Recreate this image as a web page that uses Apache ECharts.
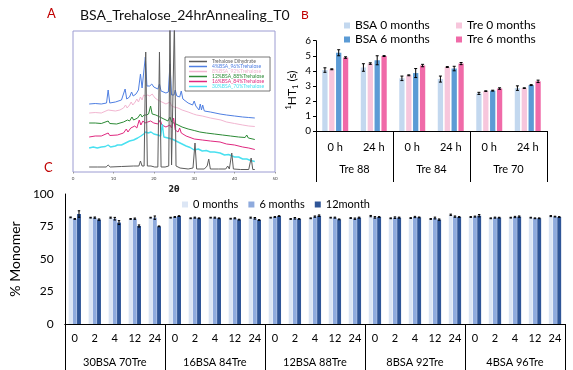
<!DOCTYPE html>
<html><head><meta charset="utf-8">
<script src="https://cdn.jsdelivr.net/npm/echarts@6/dist/echarts.min.js"></script>
<style>html,body{margin:0;padding:0;background:#fff}#c{width:573px;height:370px}</style>
</head><body><div id="c"></div>
<script>
// ---------- Panel A: XRD traces (2θ, height above baseline in plot units) ----------
const xrdTicks = [0, 10, 20, 30, 40, 50];
const traceNames = ['Trehalose Dihydrate','4%BSA_96%Trehalose','8%BSA_92%Trehalose','12%BSA_88%Trehalose','16%BSA_84%Trehalose','30%BSA_70%Trehalose'];
const trehaloseDihydrate = [[4,5],[6,5],[8.2,5],[8.7,7],[9.2,5],[12,5.5],[15,6],[16.3,6],[16.7,11],[17.1,6],[17.6,6],[18.0,120],[18.4,6],[19.3,6],[19.7,8],[20.2,5],[21.0,5],[21.4,120],[21.8,5],[22.8,5],[23.7,6],[24.0,150],[24.4,7],[24.8,7],[25.1,150],[25.5,6],[26.5,4],[28.5,3],[29.7,4],[30.2,29],[30.6,3],[32.5,3],[33.2,6],[33.6,13],[34.0,3],[36,3],[37.8,3],[38.3,6],[38.7,3],[39.3,19],[39.7,3],[41.5,2.5],[43.5,2.5],[44.1,14],[44.5,2.5],[45,2.5]];
const bsa4 = [[4,68],[5.5,68.5],[7,68],[8.3,69],[8.7,82],[9.1,69],[10.5,70],[12,72],[12.9,83],[13.3,73],[14,75],[14.5,80],[14.9,76],[15.6,78],[16.2,82],[16.7,98],[17.1,84],[17.5,85],[17.9,115],[18.3,86],[19,86],[19.5,88],[20,85],[21,83],[21.4,88],[21.8,81],[23,79],[23.6,80],[24.0,108],[24.4,77],[25,77],[25.3,82],[25.7,76],[26.4,75],[26.8,81],[27.2,73],[28.5,69],[29.6,67],[30,71],[30.4,66],[31.2,62],[31.5,68],[31.8,62],[32.1,67],[32.5,61],[34,60],[36.4,58],[38,57],[40,56],[42,55],[43.5,54.5],[45,54]];
const bsa8 = [[4,59],[5.5,59.5],[7,59],[8.7,62],[9.1,60],[10.5,61],[11.6,62],[12.5,64],[13,67],[13.4,64],[14,67],[14.4,70],[14.8,67],[15.4,70],[15.8,73],[16.2,70],[16.7,75],[17.1,72],[17.5,77],[18,76],[18.5,77],[19,76],[19.6,78],[20.3,74],[21,72],[22,70],[23,68],[24,70],[24.4,66],[25,65],[26,64],[27,62],[28.5,60],[29.8,58],[30.2,60],[30.6,57],[32,56],[34,54],[36.6,52],[38,50],[40,48.5],[42,47],[43.5,46],[45,45.5]];
const bsa12 = [[4,49],[5.5,49],[7,48.5],[8.7,51],[9.1,48.5],[10.8,48],[12.5,50],[13.5,52],[14,51],[14.6,55],[15,52],[16,54],[16.7,58],[17.1,55],[17.6,57],[18.2,57],[18.7,58],[19.2,66],[19.6,58],[20.5,57],[21.5,55],[22.5,53],[23.5,51],[24,55],[24.4,50],[25.5,48],[27,45],[28.5,43],[30,41.5],[31.4,40],[33,39],[35,38],[37,37],[39,36],[41,35],[42.6,34.5],[43,37],[43.4,34],[45,32.5]];
const bsa16 = [[4,35],[5.5,36],[7,36],[8.7,39],[9.1,36.5],[11,37],[12.5,39],[13.2,43],[13.6,40],[14.3,44],[14.7,42],[15.3,46],[15.8,44],[16.4,52],[16.8,47],[17.3,51],[17.8,49],[18.5,50],[19.2,51],[20,49],[21,48],[21.6,52],[22,47],[23,45],[24,47],[24.4,44],[24.9,54],[25.3,42],[26,40],[26.4,44],[26.8,39],[28,36],[30,33],[32,32],[34,31],[36.4,30],[38,28],[40,27],[42,25],[43.5,24],[45,22.5]];
const bsa30 = [[4,24],[5,25],[6,24],[7,25],[8,25.5],[8.7,27],[9.3,25],[10.5,26],[11,27],[12,27],[13,29],[14,31],[15,32],[16,34],[16.8,36],[17.5,38],[18,40],[18.6,39],[19.3,40],[20,38],[21,37],[21.7,36],[22.1,48],[22.5,35],[23.5,34],[24.5,33],[25,32],[26,30],[27,28],[28,26],[29,24.5],[30,22],[31,23],[32,21],[33,21.5],[34,20],[35,20],[36.4,19],[37.5,17],[38.5,17.5],[40,15],[41,15],[42,13],[43,13],[44,11.5],[45,10.5]];

// ---------- Panel B: 1H T1 (s) ----------
const bCategories = ['0 h', '24 h', '0 h', '24 h', '0 h', '24 h'];
const bGroups = ['Tre 88', 'Tre 84', 'Tre 70'];
const bYTicks = [0, 1, 2, 3, 4, 5, 6];
const bSeriesNames = ['BSA 0 months', 'Tre 0 months', 'BSA 6 months', 'Tre 6 months'];
const bsa0m = [4.05, 4.22, 3.5, 3.45, 2.5, 2.85];
const tre0m = [4.1, 4.48, 3.7, 4.25, 2.65, 2.85];
const bsa6m = [5.2, 4.7, 3.85, 4.15, 2.68, 3.05];
const tre6m = [4.88, 4.98, 4.35, 4.48, 2.82, 3.3];
const bsa0mErr = [0.15, 0.25, 0.15, 0.2, 0.07, 0.15];
const tre0mErr = [0.03, 0.05, 0.03, 0.03, 0.02, 0.02];
const bsa6mErr = [0.2, 0.3, 0.3, 0.15, 0.03, 0.03];
const tre6mErr = [0.05, 0.03, 0.08, 0.07, 0.05, 0.08];

// ---------- Panel C: % Monomer ----------
const cTimes = ['0', '2', '4', '12', '24'];
const cGroups = ['30BSA 70Tre', '16BSA 84Tre', '12BSA 88Tre', '8BSA 92Tre', '4BSA 96Tre'];
const cYTicks = [0, 25, 50, 75, 100];
const cSeriesNames = ['0 months', '6 months', '12month'];
const mono0 = [82, 81.8, 81.8, 80.8, 81.8, 81.8, 81.3, 81.8, 81, 81.8, 81.8, 80.8, 81.3, 81.8, 81.5, 83, 81.3, 81.5, 80.8, 84, 82.3, 81.3, 81.8, 81.8, 83];
const mono6 = [80.8, 81.8, 81, 81, 81.8, 82.3, 81.8, 81.8, 81.3, 81.3, 82.3, 81.3, 82.6, 81.8, 81, 82, 81.8, 82.3, 81.5, 82.6, 82.6, 81.8, 82.3, 81.3, 82.6];
const mono12 = [84.6, 80.3, 78, 75.4, 75.1, 83, 81.3, 81.3, 80.3, 80, 83, 80.8, 83.3, 80.5, 81.8, 82.3, 81.8, 82, 80.3, 82.3, 83.3, 81.8, 82.6, 81.3, 82.3];
const mono0Err = [0.3, 0.3, 0.4, 0.3, 0.3, 0.3, 0.3, 0.3, 0.3, 0.4, 0.3, 0.3, 0.3, 0.3, 0.3, 0.5, 0.3, 0.3, 0.3, 0.5, 0.3, 0.3, 0.3, 0.3, 0.4];
const mono6Err = [0.3, 0.5, 1.0, 0.5, 1.3, 0.3, 0.4, 0.4, 0.4, 0.6, 0.3, 0.6, 0.5, 0.4, 0.5, 0.6, 0.6, 0.5, 0.7, 0.5, 0.4, 0.4, 0.5, 0.3, 0.3];
const mono12Err = [2.5, 0.5, 1.5, 0.8, 0.3, 0.3, 0.3, 0.3, 0.3, 0.3, 0.3, 0.3, 0.6, 0.3, 0.4, 0.3, 0.4, 0.3, 0.5, 0.3, 0.9, 0.3, 0.5, 0.3, 0.3];
const cCategories = [];
cGroups.forEach(g => cTimes.forEach(t => cCategories.push(g + '|' + t)));

// ---------- styles ----------
const FONT = 'Lato';
const traceColors = ['#5c5c5c', '#4f7fe2', '#f2b6d1', '#2b8a35', '#e0287f', '#48e0f0'];
const bColors = ['#c3d8ef', '#f7c6dc', '#5b9bd5', '#f06aa8'];
const cColors = ['#dce6f5', '#8eaadd', '#2f5597'];

function errSeries(name, xi, yi, vals, errs, offset, cap) {
  return {
    type: 'custom', name: name, xAxisIndex: xi, yAxisIndex: yi, z: 10, silent: true,
    data: vals.map((v, i) => [i, v, errs[i]]),
    encode: { x: 0, y: 1 },
    renderItem: function (params, api) {
      const x = api.value(0), v = api.value(1), e = api.value(2);
      const t = api.coord([x, v + e]), b = api.coord([x, v - e]);
      const cx = t[0] + offset;
      const st = { stroke: '#000', lineWidth: 1 };
      return { type: 'group', children: [
        { type: 'line', shape: { x1: cx, y1: t[1], x2: cx, y2: b[1] }, style: st },
        { type: 'line', shape: { x1: cx - cap, y1: t[1], x2: cx + cap, y2: t[1] }, style: st },
        { type: 'line', shape: { x1: cx - cap, y1: b[1], x2: cx + cap, y2: b[1] }, style: st }
      ] };
    }
  };
}

const traces = [trehaloseDihydrate, bsa4, bsa8, bsa12, bsa16, bsa30];
const series = [];
traces.forEach((d, i) => series.push({
  type: 'line', name: traceNames[i], xAxisIndex: 0, yAxisIndex: 0, data: d,
  showSymbol: false, symbol: 'none', clip: true, z: 2 + (i === 0 ? 5 : 0),
  lineStyle: { color: traceColors[i], width: i === 5 ? 1.4 : 1 }, itemStyle: { color: traceColors[i] }
}));
const bVals = [bsa0m, tre0m, bsa6m, tre6m];
const bErrs = [bsa0mErr, tre0mErr, bsa6mErr, tre6mErr];
const bOff = [-10.34, -3.45, 3.44, 10.33];
bVals.forEach((d, i) => series.push({
  type: 'bar', name: bSeriesNames[i], xAxisIndex: 1, yAxisIndex: 1, data: d,
  barWidth: 5.3, barGap: '30%', itemStyle: { color: bColors[i] }
}));
bVals.forEach((d, i) => series.push(errSeries('errB' + i, 1, 1, d, bErrs[i], bOff[i], 1.5)));
const cVals = [mono0, mono6, mono12];
const cErrs = [mono0Err, mono6Err, mono12Err];
const cOff = [-4.21, 0, 4.21];
cVals.forEach((d, i) => series.push({
  type: 'bar', name: cSeriesNames[i], xAxisIndex: 3, yAxisIndex: 2, data: d,
  barWidth: 3.9, barGap: '8%', itemStyle: { color: cColors[i] }
}));
cVals.forEach((d, i) => series.push(errSeries('errC' + i, 3, 2, d, cErrs[i], cOff[i], 1.2)));

const chart = echarts.init(document.getElementById('c'), null, { renderer: 'canvas' });
chart.setOption({
  backgroundColor: '#fff',
  animation: false,
  textStyle: { fontFamily: FONT },
  grid: [
    { left: 73, top: 31, width: 202, height: 141, show: true, borderColor: '#9c9cd2', borderWidth: 1, backgroundColor: 'transparent' },
    { left: 316, top: 40.7, width: 231, height: 90.3 },
    { left: 60, top: 194, width: 505, height: 130 }
  ],
  xAxis: [
    { gridIndex: 0, type: 'value', min: 0, max: 50, interval: 10,
      axisLine: { show: false }, axisTick: { show: true, length: 1.5, lineStyle: { color: '#999' } }, splitLine: { show: false },
      axisLabel: { fontSize: 4.5, color: '#444', margin: 4, formatter: v => xrdTicks.includes(v) ? String(v) : '' },
      name: '2θ', nameLocation: 'middle', nameGap: 14, nameTextStyle: { fontSize: 8, fontWeight: 'bold', color: '#222', fontFamily: 'DejaVu Sans' } },
    { gridIndex: 1, type: 'category', data: bCategories, boundaryGap: true,
      axisLine: { show: true, lineStyle: { color: '#000', width: 1 } }, axisTick: { show: false },
      axisLabel: { interval: 0, fontSize: 11, color: '#000', margin: 11 } },
    { gridIndex: 1, type: 'category', data: bGroups, position: 'bottom', boundaryGap: true,
      axisLine: { show: false }, axisTick: { show: true, interval: 0, length: 51, lineStyle: { color: '#000', width: 1 } },
      axisLabel: { interval: 0, fontSize: 11, color: '#000', margin: 33 } },
    { gridIndex: 2, type: 'category', data: cCategories, boundaryGap: true,
      axisLine: { show: true, lineStyle: { color: '#000', width: 1 } }, axisTick: { show: false },
      axisLabel: { interval: 0, fontSize: 11, color: '#000', margin: 9, formatter: v => v.split('|')[1] } },
    { gridIndex: 2, type: 'category', data: cGroups, position: 'bottom', boundaryGap: true,
      axisLine: { show: false }, axisTick: { show: true, interval: 0, length: 60, lineStyle: { color: '#000', width: 1 } },
      axisLabel: { interval: 0, fontSize: 11, color: '#000', margin: 33 } }
  ],
  yAxis: [
    { gridIndex: 0, type: 'value', min: 0, max: 141, show: false },
    { gridIndex: 1, type: 'value', min: 0, max: 6, interval: 1,
      axisLine: { show: true, lineStyle: { color: '#000', width: 1 } },
      axisTick: { show: true, length: 3, lineStyle: { color: '#000' } }, splitLine: { show: false },
      axisLabel: { fontSize: 10, color: '#000', margin: 5, formatter: v => bYTicks.includes(v) ? String(v) : '' } },
    { gridIndex: 2, type: 'value', min: 0, max: 100, interval: 25,
      axisLine: { show: true, lineStyle: { color: '#000', width: 1 } },
      axisTick: { show: false }, splitLine: { show: false },
      axisLabel: { fontSize: 12, color: '#000', margin: 11, formatter: v => cYTicks.includes(v) ? String(v) : '' },
      name: '% Monomer', nameLocation: 'middle', nameRotate: 90, nameGap: 35,
      nameTextStyle: { fontSize: 14, color: '#000' } }
  ],
  legend: [
    { left: 185, top: 57, orient: 'vertical', itemGap: 0, itemWidth: 18, itemHeight: 1.5, icon: 'rect',
      padding: [2, 6, 2, 4], borderColor: '#555', borderWidth: 0.8, backgroundColor: '#fff',
      textStyle: { fontSize: 5, lineHeight: 4.5 }, z: 20,
      data: traceNames.map((n, i) => ({ name: n, textStyle: { color: traceColors[i] } })) },
    { left: 339, top: 14, orient: 'vertical', itemGap: 1, itemWidth: 6, itemHeight: 6, icon: 'rect',
      textStyle: { fontSize: 12, lineHeight: 13, color: '#000' }, data: [bSeriesNames[0], bSeriesNames[2]] },
    { left: 451, top: 14, orient: 'vertical', itemGap: 1, itemWidth: 6, itemHeight: 6, icon: 'rect',
      textStyle: { fontSize: 12, lineHeight: 13, color: '#000' }, data: [bSeriesNames[1], bSeriesNames[3]] },
    { left: 177, top: 194, orient: 'horizontal', itemGap: 10, itemWidth: 6, itemHeight: 6, icon: 'rect',
      textStyle: { fontSize: 11, color: '#000' }, data: cSeriesNames }
  ],
  graphic: [
    { type: 'text', left: 47, top: 7, style: { text: 'A', fontSize: 13, fill: '#c00000', fontFamily: FONT } },
    { type: 'text', left: 301, top: 9, style: { text: 'B', fontSize: 12, fill: '#c00000', fontFamily: FONT } },
    { type: 'text', left: 44, top: 161, style: { text: 'C', fontSize: 13, fill: '#c00000', fontFamily: FONT } },
    { type: 'text', left: 80, top: 8, style: { text: 'BSA_Trehalose_24hrAnnealing_T0', fontSize: 14, fill: '#111', fontFamily: FONT } },
    { type: 'text', x: 292, y: 90, rotation: Math.PI / 2,
      style: { text: '{sup|1}{m|HT}{sub|1}{m| (s)}', align: 'center', verticalAlign: 'middle', fill: '#000',
        rich: {
          m: { fontSize: 12, lineHeight: 15, fontFamily: FONT, fill: '#000' },
          sup: { fontSize: 7.5, lineHeight: 8, verticalAlign: 'top', fontFamily: FONT, fill: '#000' },
          sub: { fontSize: 7.5, lineHeight: 8, verticalAlign: 'bottom', fontFamily: FONT, fill: '#000' } } } }
  ],
  series: series
});
</script></body></html>
